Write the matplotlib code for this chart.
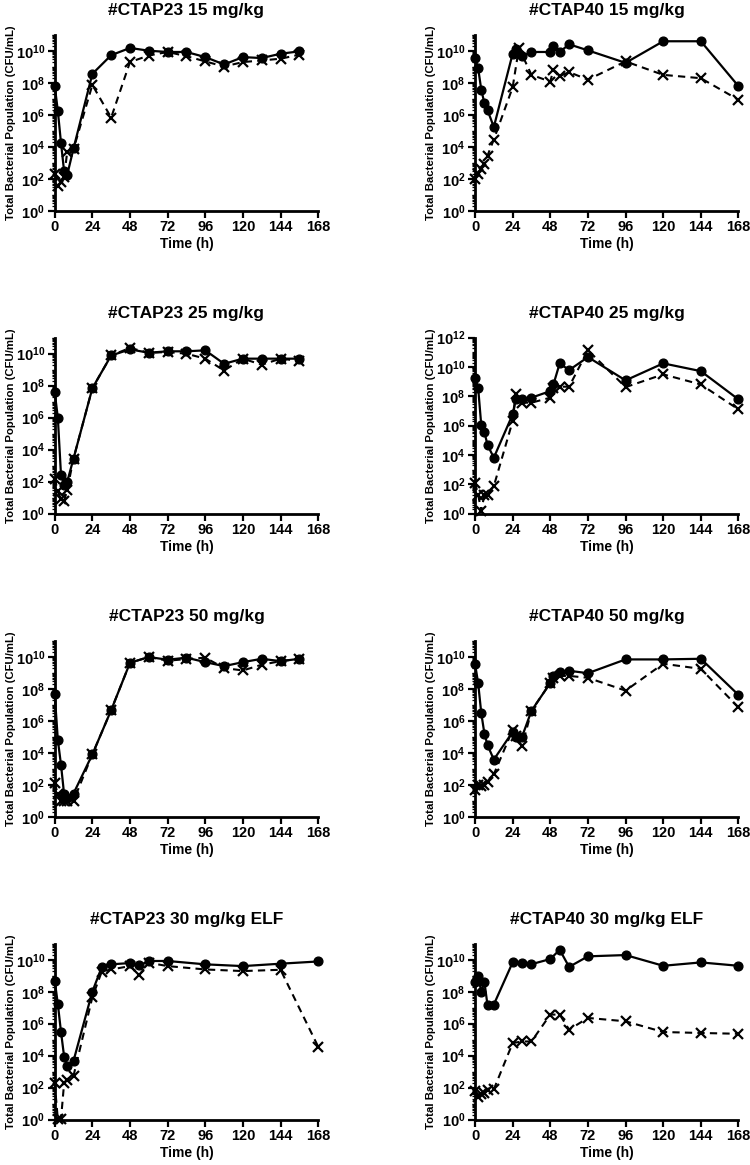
import numpy as np
import matplotlib
matplotlib.use("Agg")
import matplotlib.pyplot as plt
from matplotlib import font_manager
from matplotlib.ticker import FixedLocator, LogLocator, FuncFormatter, NullFormatter

plt.rcParams['font.family'] = ['Liberation Sans', 'DejaVu Sans']
plt.rcParams['font.weight'] = 'bold'
plt.rcParams['axes.labelweight'] = 'bold'
plt.rcParams['axes.titleweight'] = 'bold'
plt.rcParams['mathtext.fontset'] = 'custom'
plt.rcParams['mathtext.rm'] = 'Liberation Sans:bold'
plt.rcParams['mathtext.it'] = 'Liberation Sans:bold'
plt.rcParams['mathtext.bf'] = 'Liberation Sans:bold'

_names = {f.name for f in font_manager.fontManager.ttflist}
if 'Liberation Sans Narrow' in _names:
    ylab_family = ['Liberation Sans Narrow', 'Liberation Sans']
    ylab_size = 10.0
else:
    ylab_family = ['Liberation Sans', 'DejaVu Sans']
    ylab_size = 8.2

# ---------------- data (log10 CFU/mL) ----------------
titles = ["#CTAP23 15 mg/kg", "#CTAP40 15 mg/kg",
          "#CTAP23 25 mg/kg", "#CTAP40 25 mg/kg",
          "#CTAP23 50 mg/kg", "#CTAP40 50 mg/kg",
          "#CTAP23 30 mg/kg ELF", "#CTAP40 30 mg/kg ELF"]

t_23 = [0, 2, 4, 6, 8, 12, 24, 36, 48, 60, 72, 84, 96, 108, 120, 132, 144, 156]
t_40 = [0, 2, 4, 6, 8, 12, 24, 26, 30, 36, 48, 50, 54, 60, 72, 96, 120, 144, 168]
t_elf = [0, 2, 4, 6, 8, 12, 24, 30, 36, 48, 54, 60, 72, 96, 120, 144, 168]

# CTAP23 15 mg/kg
p1_total = [7.81, 6.24, 4.25, 2.46, 2.25, 3.89, 8.55, 9.72, 10.17, 10.0, 9.92, 9.92, 9.60, 9.14, 9.60, 9.54, 9.81, 9.96]
p1_resist = [2.3, 1.55, 1.8, 2.1, 3.7, 3.85, 7.86, 5.82, 9.29, 9.70, 9.92, 9.66, 9.33, 9.01, 9.29, 9.39, 9.50, 9.75]

# CTAP40 15 mg/kg
p2_t_resist = [0, 2, 4, 6, 8, 12, 24, 28, 36, 48, 50, 54, 60, 72, 96, 120, 144, 168]
p2_total = [9.54, 8.91, 7.56, 6.72, 6.28, 5.23, 9.81, 10.13, 9.66, 9.92, 9.92, 10.27, 9.92, 10.40, 10.02, 9.24, 10.59, 10.59, 7.78]
p2_resist = [1.98, 2.31, 2.61, 2.94, 3.45, 4.45, 7.71, 10.17, 8.49, 8.07, 8.82, 8.41, 8.66, 8.19, 9.33, 8.49, 8.28, 6.93]

# CTAP23 25 mg/kg
p3_total = [7.6, 6.0, 2.45, 1.8, 2.0, 3.45, 7.84, 9.89, 10.27, 10.06, 10.15, 10.15, 10.21, 9.37, 9.69, 9.69, 9.69, 9.69]
p3_resist = [2.2, 1.4, 0.9, 0.8, 1.5, 3.45, 7.84, 9.89, 10.36, 10.06, 10.1, 10.0, 9.69, 8.95, 9.69, 9.31, 9.69, 9.55]

# CTAP40 25 mg/kg
p4_total = [9.27, 8.59, 6.02, 5.56, 4.68, 3.82, 6.77, 7.84, 7.79, 7.91, 8.36, 8.81, 10.25, 9.79, 10.68, 9.09, 10.25, 9.72, 7.79]
p4_resist = [2.11, 1.3, 0.2, 1.3, 1.3, 1.88, 6.31, 8.13, 7.57, 7.57, 7.91, 8.59, 8.66, 8.66, 11.15, 8.63, 9.5, 8.81, 7.11]

# CTAP23 50 mg/kg
p5_total = [7.67, 4.8, 3.26, 1.4, 1.2, 1.45, 3.89, 6.66, 9.62, 9.98, 9.81, 9.94, 9.66, 9.41, 9.66, 9.87, 9.72, 9.87]
p5_resist = [2.1, 1.4, 1.0, 1.0, 1.0, 1.0, 3.89, 6.66, 9.62, 9.98, 9.75, 9.85, 9.94, 9.29, 9.14, 9.50, 9.72, 9.87]

# CTAP40 50 mg/kg
p6_total = [9.56, 8.36, 6.47, 5.19, 4.47, 3.57, 5.3, 5.0, 5.0, 6.62, 8.36, 8.82, 9.04, 9.12, 8.97, 9.83, 9.83, 9.87, 7.61]
p6_resist = [1.7, 2.0, 1.95, 2.0, 2.2, 2.65, 5.42, 5.04, 4.41, 6.62, 8.36, 8.7, 8.8, 8.8, 8.68, 7.88, 9.56, 9.24, 6.83]

# CTAP23 30 mg/kg ELF
p7_total = [8.70, 7.23, 5.5, 3.95, 3.35, 3.68, 8.0, 9.54, 9.71, 9.79, 9.64, 9.92, 9.92, 9.71, 9.60, 9.75, 9.89]
p7_resist = [2.29, 0.02, 0.02, 2.29, 2.5, 2.75, 7.65, 9.26, 9.39, 9.6, 9.06, 9.81, 9.60, 9.39, 9.29, 9.37, 4.56]

# CTAP40 30 mg/kg ELF
p8_total = [8.61, 8.99, 7.98, 8.61, 7.14, 7.2, 9.83, 9.81, 9.72, 10.04, 10.62, 9.55, 10.21, 10.29, 9.62, 9.83, 9.62]
p8_resist = [1.8, 1.4, 1.6, 1.7, 1.85, 1.9, 4.79, 4.89, 4.89, 6.57, 6.57, 5.63, 6.36, 6.15, 5.48, 5.42, 5.37]

panels = [
    (t_23, p1_total, t_23, p1_resist, 11),
    (t_40, p2_total, p2_t_resist, p2_resist, 11),
    (t_23, p3_total, t_23, p3_resist, 11),
    (t_40, p4_total, t_40, p4_resist, 12),
    (t_23, p5_total, t_23, p5_resist, 11),
    (t_40, p6_total, t_40, p6_resist, 11),
    (t_elf, p7_total, t_elf, p7_resist, 11),
    (t_elf, p8_total, t_elf, p8_resist, 11),
]

x_ticks = [0, 24, 48, 72, 96, 120, 144, 168]

# ---------------- figure ----------------
W, H = 750, 1165
fig = plt.figure(figsize=(W / 100, H / 100), dpi=100)

col_x = [54.7, 475.0]
ax_w = 263.5
ax_h = 176.0
row_bottom = [210.7 + 303.0 * r for r in range(4)]


def fmt(v, pos):
    e = int(round(np.log10(v)))
    return r'$10^{%d}$' % e


for i, (tc, yc, tx, yx, top) in enumerate(panels):
    r, c = divmod(i, 2)
    x0 = col_x[c]
    yb = row_bottom[r]
    ax = fig.add_axes([x0 / W, 1 - yb / H, ax_w / W, ax_h / H])
    ax.plot(tx, [10 ** v for v in yx], color='black', lw=1.5, ls=(0, (3.5, 2.5)),
            marker='x', ms=7, mew=1.6, clip_on=False, zorder=3)
    ax.plot(tc, [10 ** v for v in yc], color='black', lw=1.6, ls='-',
            marker='o', ms=6.3, clip_on=False, zorder=4)
    ax.set_yscale('log')
    ax.set_ylim(1, 10 ** top)
    ax.set_xlim(0, 168)
    ax.set_xticks(x_ticks)
    ax.yaxis.set_major_locator(FixedLocator([10.0 ** k for k in range(0, top + 1, 2)]))
    ax.yaxis.set_major_formatter(FuncFormatter(fmt))
    ax.yaxis.set_minor_locator(LogLocator(base=10, subs=np.arange(1, 10), numticks=100))
    ax.yaxis.set_minor_formatter(NullFormatter())
    for s in ['top', 'right']:
        ax.spines[s].set_visible(False)
    for s in ['left', 'bottom']:
        ax.spines[s].set_linewidth(2.0)
    ax.tick_params(axis='both', which='major', direction='out', length=5, width=1.6,
                   labelsize=10.5, pad=2)
    ax.tick_params(axis='y', which='minor', direction='out', length=2.5, width=0.9)
    ax.set_title(titles[i], fontsize=12.5, fontweight='bold', pad=14)
    ax.set_xlabel('Time (h)', fontsize=10, fontweight='bold', labelpad=2)
    ax.set_ylabel('Total Bacterial Population (CFU/mL)', fontsize=ylab_size,
                  fontweight='bold', family=ylab_family)
    ax.yaxis.set_label_coords(-39.0 / ax_w, 0.5)

fig.savefig('out.png', dpi=100)
